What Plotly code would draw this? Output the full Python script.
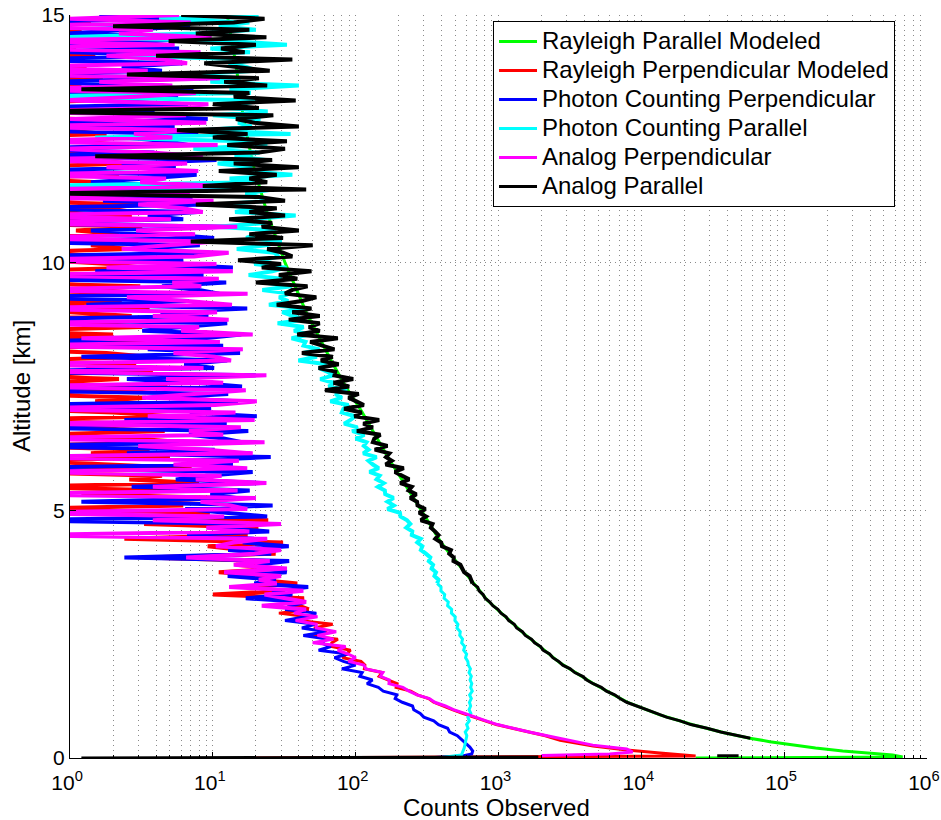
import plotly.graph_objects as go

# ---------------- data ----------------
# regular lidar range bins above the near-ground points
ALT_START_KM = 0.45
ALT_STEP_KM = 0.075
N_BINS = 195
altitude_grid_km = [round(ALT_START_KM + ALT_STEP_KM * i, 4) for i in range(N_BINS)]

# Rayleigh Parallel Modeled (smooth model)
rayleigh_par_alt = [0, 0.02, 0.06, 0.10, 0.14, 0.20, 0.26, 0.33, 0.40, 0.51, 0.67, 0.87, 1.13, 1.51,
                    1.92, 2.53, 3.19, 4.34, 5.0, 5.5, 6.0, 6.5, 7.0, 7.5, 8.0, 9.0, 10.0, 11.0, 12.0,
                    13.0, 14.0, 15.0]
rayleigh_par_val = [24000, 676000, 575000, 380000, 257000, 166000, 115000, 79400, 57500, 38000, 22900,
                    13500, 7940, 4570, 2690, 1480, 832, 398, 288, 224, 174, 138, 110, 85, 68, 45, 32,
                    24, 19, 16.2, 14.5, 12.6]

# Rayleigh Perpendicular Modeled
rayleigh_perp_near_alt = [0, 0.04, 0.10, 0.16, 0.24, 0.36]
rayleigh_perp_near_val = [18, 24000, 13500, 7900, 4600, 2700]
rayleigh_perp_grid = [
    2130, 1600, 1250, 965, 795, 660, 560, 475, 410, 352,
    324, 270, 243, 192, 195, 168, 146, 153, 115, 116,
    109, 81, 87, 92, 68, 68, 75, 46, 63, 51,
    69, 40, 46, 29, 47, 40, 31, 43.5, 10, 32,
    18, 39, 21, 24, 11, 29, 14.5, 24, 3.3, 27.5,
    16, 9.2, 31, 2.4, 17.5, 11.6, 20.8, 3.3, 24.4, 5.9,
    9.5, 0.4, 6.2, 3.1, 12.0, 1.2, 5.5, 0.3, 8.0, 2.6,
    4.4, 0.3, 7.1, 2.2, 0.5, 5.0, 1.4, 3.6, 0.3, 6.3,
    2.8, 0.6, 4.6, 1.1, 3.3, 0.3, 5.2, 2.0, 0.4, 3.9,
    1.5, 3.4, 0.3, 2.6, 4.8, 0.7, 2.2, 0.3, 3.8, 1.3,
    2.9, 0.4, 3.5, 1.8, 0.3, 2.5, 4.1, 0.8, 2.0, 0.3,
    3.2, 1.5, 0.3, 2.7, 1.0, 3.6, 0.5, 2.3, 0.3, 2.9,
    1.2, 3.1, 0.3, 2.4, 1.6, 0.3, 3.3, 1.9, 0.6, 2.8,
    0.3, 2.6, 1.4, 3.0, 0.4, 2.2, 1.1, 3.2, 0.3, 1.8,
    2.7, 0.5, 1.9, 3.0, 0.3, 2.4, 1.3, 0.3, 2.9, 1.6,
    0.4, 2.2, 1.0, 0.3, 2.6, 1.5, 0.3, 1.9, 0.8, 2.3,
    1.2, 0.3, 1.8, 0.9, 0.3, 2.0, 1.1, 0.3, 1.6, 0.7,
    0.3, 1.4, 0.6, 1.9, 0.3, 1.2, 0.5, 1.7, 0.3, 1.0,
    1.3, 0.3, 0.8, 1.5, 0.3, 1.1, 0.4, 1.6, 0.3, 0.9,
    1.2, 0.3, 1.4, 0.5, 1.0,
]

# Photon Counting Perpendicular
pc_perp_near_alt = [0, 0.04, 0.08, 0.14, 0.22, 0.36]
pc_perp_near_val = [310, 560, 650, 660, 630, 560]
pc_perp_grid = [
    515, 455, 440, 380, 352, 300, 283, 255, 250, 212,
    189, 194, 156, 144, 120, 131, 107, 111, 80, 100,
    82, 71, 88, 55, 67, 57, 63, 43, 62, 42,
    52, 32, 44, 53, 32, 35, 44, 17, 36, 26,
    46.5, 19.5, 27.6, 12.7, 32.8, 27.9, 20, 34.2, 2.4, 25.6,
    12.8, 34, 16.2, 19.4, 6.6, 24.8, 10.5, 20.3, 0.3, 24,
    12.3, 6.4, 26.2, 1.2, 14.6, 9.6, 18.1, 2.7, 21.7, 5.5,
    9, 19, 0.3, 13.8, 6.6, 25.4, 2.5, 10.3, 0.3, 16,
    11.9, 6.8, 17.7, 0.3, 12.5, 2.4, 20.3, 6.9, 9.7, 0.3,
    15, 4.4, 12.8, 0.3, 16, 7.6, 2.5, 20, 0.3, 10.2,
    6.3, 12.6, 1.2, 15.5, 3.5, 11.8, 0.3, 8.7, 15.8, 3.2,
    6.1, 12.6, 0.3, 9.3, 4.3, 17.4, 1.3, 6.8, 0.3, 11.1,
    8, 4.4, 12.4, 0.3, 8.6, 1.5, 13.8, 4.3, 6.2, 0.3,
    9.5, 2.7, 8.1, 0.3, 10.2, 4.7, 1.4, 12.6, 0.3, 6.2,
    3.5, 7.8, 0.3, 9.8, 1.7, 7.2, 0.3, 5.1, 9.9, 1.4,
    3.4, 7.7, 0.3, 5.5, 2.3, 10.6, 0.5, 3.9, 0.3, 6.7,
    4.8, 2.4, 7.9, 0.3, 5.4, 0.5, 9.2, 2.5, 3.9, 0.3,
    6.7, 1.4, 5.7, 0.3, 7.3, 3.1, 0.6, 9.3, 0.3, 4.4,
    2.3, 6.2, 0.3, 7.9, 0.9, 5.8, 0.3, 4.0, 8.2, 0.9,
    2.6, 6.9, 0.3, 4.7, 1.6,
]

# Photon Counting Parallel
pc_par_near_alt = [0, 0.06, 0.20, 0.36]
pc_par_near_val = [376, 550, 575, 590]
pc_par_grid = [
    600, 585, 612, 598, 625, 610, 640, 622, 638, 626,
    645, 628, 655, 638, 650, 632, 645, 622, 636, 615,
    610, 588, 598, 570, 580, 552, 560, 535, 540, 512,
    520, 495, 498, 468, 470, 440, 445, 416, 420, 395,
    396, 372, 380, 356, 365, 340, 348, 325, 333, 310,
    286, 293, 270, 285, 247, 249, 226, 241, 229, 206,
    204, 167, 185, 167, 184, 161, 160, 143, 157, 140,
    147, 125, 145, 132, 123, 140, 113, 123, 114, 119,
    100, 115, 95, 103, 83, 92, 99, 80, 82, 89,
    66.5, 80, 72, 86.8, 64.8, 70, 56.5, 69.4, 63, 55.4,
    62.7, 39.7, 53.5, 42.8, 55.8, 43.2, 44.5, 35.6, 47.1, 37,
    43.2, 28.4, 44.3, 36.1, 30.6, 44.4, 24.7, 33.7, 29.1, 34.6,
    22.2, 35.6, 22.7, 30.4, 17.8, 26.1, 32.7, 19.5, 22.1, 28.9,
    26.9, 14.7, 23.5, 30.3, 17.1, 20.3, 27.7, 10.5, 23.3, 17.7,
    38, 14.3, 20.1, 10.9, 24.5, 21.3, 16.9, 26.3, 0.5, 21.7,
    13.1, 36, 16.5, 18.8, 10.8, 23.3, 14.2, 21.2, 7.3, 24.0,
    16.7, 1.5, 35, 8.6, 18.7, 15.0, 21.5, 10.0, 24.2, 12.2,
    15.1, 22.2, 0.4, 18.4, 13.1, 40, 9.6, 15.6, 6.6, 20.3,
    17.2, 12.9, 22.5, 2.1, 18.2, 9.6, 33, 13.1, 0.8, 7.5,
    20, 11, 18, 4.2, 20.9,
]

# Analog Perpendicular
an_perp_near_alt = [0.05, 0.08, 0.12, 0.18, 0.26, 0.36]
an_perp_near_val = [2000, 6000, 8700, 7900, 4570, 3020]
an_perp_grid = [
    2190, 1640, 1290, 985, 820, 676, 580, 484, 425, 358,
    328, 269, 236, 214, 171, 172, 149, 155, 118, 114,
    89, 100, 88, 75, 85, 50, 70, 54, 73, 53,
    53, 38, 54, 37, 45, 22, 45, 31, 23, 43,
    13, 28, 21, 30, 12, 33, 14, 25, 6.5, 19.5,
    30, 10.5, 14, 24, 0.4, 18, 9, 30, 3.8, 12,
    0.3, 17.4, 13.3, 8.2, 20, 0.3, 14.9, 3.8, 23.7, 7.6,
    11.5, 0.5, 17.4, 5.3, 15.2, 0.3, 19, 9.1, 3, 23,
    0.3, 11.8, 6.8, 15.7, 0.6, 19.6, 3.5, 14.4, 0.3, 10.4,
    20.3, 3.2, 7.1, 17, 0.3, 11.8, 4.7, 23.7, 0.7, 8.6,
    0.3, 13.4, 10.3, 5.3, 16.2, 0.3, 11.2, 1.2, 19, 6.0,
    8, 0.3, 12.9, 3.8, 10.7, 0.3, 13.6, 6.6, 2.5, 17.5,
    0.3, 8.3, 5.2, 11, 0.3, 13.8, 1.8, 10.6, 0.3, 7.4,
    12.9, 2.3, 4.8, 10.6, 0.3, 7.5, 2.9, 14.8, 0.3, 5.1,
    0.3, 8.5, 6.2, 3.0, 10.1, 0.3, 6.9, 0.5, 11.6, 3.1,
    4.7, 0.3, 7.9, 1.8, 6.6, 0.3, 8.5, 3.7, 0.8, 10.8,
    0.3, 5.2, 2.8, 7.1, 0.3, 9.0, 1.0, 6.5, 0.3, 4.5,
    9.3, 0.9, 2.9, 7.6, 0.3, 5.2, 1.6, 11.2, 0.3, 3.5,
    0.3, 6.6, 4.6, 1.8, 8.2, 0.3, 5.4, 0.3, 9.8, 2.2,
    3.8, 0.3, 7.0, 1.0, 5.8,
]

# Analog Parallel (None = missing bins near the ground)
an_par_near_alt = [0, 0.02, None, 0.045, 0.045, None, 0.40]
an_par_near_val = [1.2, 1900, None, 34000, 48000, None, 58000]
an_par_grid = [
    47900, 36000, 28900, 22200, 18700, 15000, 12800, 10800, 9400, 7900,
    7100, 6500, 5700, 5250, 4600, 4150, 3880, 3420, 3180, 2820,
    2640, 2400, 2280, 2060, 1970, 1790, 1700, 1540, 1470, 1340,
    1290, 1180, 1130, 1040, 990, 912, 870, 806, 780, 731,
    715, 658, 644, 628, 574, 554, 541, 484, 486, 452,
    464, 402, 397, 361, 380, 359, 336, 345, 286, 311,
    278, 308, 271, 269, 241, 266, 235, 247, 205, 237,
    209, 188, 217, 162, 179, 163, 172, 136, 167, 132,
    135, 149, 102, 132, 113, 146, 98, 110, 83, 114,
    101, 89, 105, 61, 90, 70, 96, 71, 72, 55,
    76, 57, 69, 42, 71, 57, 48, 75, 39, 56,
    47, 56, 34, 56, 36, 49, 28, 42, 53, 32,
    36, 46, 20, 39, 29, 49, 22, 30, 15, 36,
    31, 24, 50, 7, 31, 18, 40, 22, 26, 13,
    32, 18, 28, 7.6, 32, 21, 0.6, 45, 8.5, 24,
    18, 28, 11, 40, 14, 26, 1.5, 21, 32, 12.6,
    33, 10, 17.5, 5.6, 40, 19.5, 14.5, 26.5, 0.4, 21,
    10, 38, 14, 18, 1.2, 24, 12, 21, 2.5, 25,
    15, 8.7, 36, 4, 16.7, 11.4, 20, 4.9, 23.7, 7.6,
    18, 2, 14, 23, 6,
]

x_tick_vals = [1, 10, 100, 1000, 10000, 100000, 1000000]
x_tick_text = ["10<sup>0</sup>", "10<sup>1</sup>", "10<sup>2</sup>", "10<sup>3</sup>",
               "10<sup>4</sup>", "10<sup>5</sup>", "10<sup>6</sup>"]
y_tick_vals = [0, 5, 10, 15]

# ---------------- figure ----------------
FONT = "Liberation Sans, Arial, Helvetica, sans-serif"
LW = 3          # smooth part of the profiles
LW_NOISY = 4    # noise-dominated part (dense range-bin strokes)
LEGEND_TEXT_PX = 24


def legend_label(text):
    return f'<span style="font-size:{LEGEND_TEXT_PX}px">{text}</span>'


# (name, colour, altitudes, values, altitude above which the profile is noise dominated)
series = [
    ("Rayleigh Parallel Modeled", "#00ff00", rayleigh_par_alt, rayleigh_par_val, None),
    ("Rayleigh Perpendicular Modeled", "#ff0000",
     rayleigh_perp_near_alt + altitude_grid_km, rayleigh_perp_near_val + rayleigh_perp_grid, 3.0),
    ("Photon Counting Perpendicular", "#0000ff",
     pc_perp_near_alt + altitude_grid_km, pc_perp_near_val + pc_perp_grid, 3.0),
    ("Photon Counting Parallel", "#00ffff",
     pc_par_near_alt + altitude_grid_km, pc_par_near_val + pc_par_grid, 3.5),
    ("Analog Perpendicular", "#ff00ff",
     an_perp_near_alt + altitude_grid_km, an_perp_near_val + an_perp_grid, 3.0),
    ("Analog Parallel", "#000000",
     an_par_near_alt + altitude_grid_km, an_par_near_val + an_par_grid, 3.5),
]

fig = go.Figure()
for name, color, alt, val, noisy_from in series:
    hov = name + ": %{x}<br>%{y} km<extra></extra>"
    if noisy_from is None:
        fig.add_trace(go.Scatter(x=val, y=alt, mode="lines", name=legend_label(name),
                                 legendgroup=name, hovertemplate=hov,
                                 line=dict(color=color, width=LW)))
        continue
    k = next(i for i, a in enumerate(alt) if a is not None and a >= noisy_from)
    fig.add_trace(go.Scatter(x=val[:k + 1], y=alt[:k + 1], mode="lines", name=legend_label(name),
                             legendgroup=name, hovertemplate=hov,
                             line=dict(color=color, width=LW), connectgaps=False))
    fig.add_trace(go.Scatter(x=val[k:], y=alt[k:], mode="lines", name=legend_label(name),
                             legendgroup=name, showlegend=False, hovertemplate=hov,
                             line=dict(color=color, width=LW_NOISY)))

minor_vals = [m * 10 ** k for k in range(6) for m in range(2, 10)]
GRID = "#8a8a8a"
GDASH = "1px,4px"

fig.update_layout(
    width=941, height=820,
    margin=dict(l=70, r=14, t=15, b=62, autoexpand=False),
    paper_bgcolor="white", plot_bgcolor="white",
    font=dict(family=FONT, color="black"),
    showlegend=True,
    legend=dict(x=0.4936, y=0.992, xanchor="left", yanchor="top",
                bgcolor="white", bordercolor="black", borderwidth=1,
                font=dict(family=FONT, size=20, color="black"),
                itemwidth=38, tracegroupgap=0),
    xaxis=dict(type="log", range=[-0.0005, 6.0005], tickmode="array",
               tickvals=x_tick_vals, ticktext=x_tick_text,
               ticks="inside", ticklen=6, tickcolor="black",
               showline=True, linecolor="black", linewidth=1, mirror=False,
               showgrid=True, gridcolor=GRID, griddash=GDASH, gridwidth=1,
               zeroline=False, ticklabelstandoff=6, ticklabeloverflow="allow",
               ticklabelshift=-3, automargin=False,
               tickfont=dict(family=FONT, size=21, color="black"),
               minor=dict(tickmode="array", tickvals=minor_vals, ticks="inside", ticklen=3,
                          tickcolor="black", showgrid=True, gridcolor=GRID,
                          griddash=GDASH, gridwidth=1)),
    yaxis=dict(range=[0, 15], tickmode="array", tickvals=y_tick_vals,
               ticks="inside", ticklen=6, tickcolor="black",
               showline=True, linecolor="black", linewidth=1, mirror=False,
               showgrid=True, gridcolor=GRID, griddash=GDASH, gridwidth=1,
               zeroline=False, ticklabeloverflow="allow", automargin=False,
               tickfont=dict(family=FONT, size=21, color="black")),
    annotations=[
        dict(text="Counts Observed", xref="paper", yref="paper", x=0.498, y=-0.067,
             xanchor="center", yanchor="middle", showarrow=False,
             font=dict(family=FONT, size=24, color="black")),
        dict(text="Altitude [km]", xref="paper", yref="paper", x=-0.056, y=0.5007,
             xanchor="center", yanchor="middle", showarrow=False, textangle=-90,
             font=dict(family=FONT, size=24, color="black")),
    ],
)

fig.write_html("out.html")
